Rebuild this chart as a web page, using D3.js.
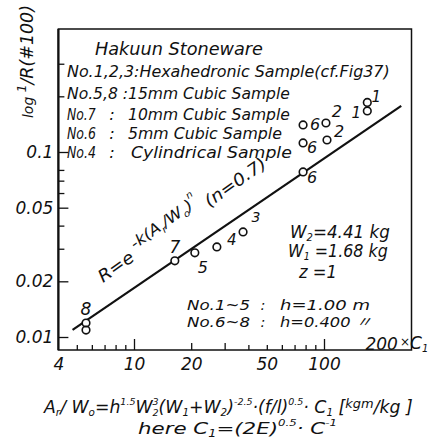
<!DOCTYPE html>
<html>
<head>
<meta charset="utf-8">
<script src="https://cdnjs.cloudflare.com/ajax/libs/d3/7.8.5/d3.min.js"></script>
<style>
  html, body { margin: 0; padding: 0; background: #fff; }
  svg { display: block; }
  text { font-family: "DejaVu Sans", "Liberation Sans", "Noto Sans CJK JP", sans-serif; font-style: italic; fill: #111; }
</style>
</head>
<body>
<svg id="chart" width="435" height="441"></svg>
<script>
// ---- data: Ar/W0 (×C1) against log 1/R(#100), Hakuun stoneware ----
const sampleNo = ["8", "8", "7", "5", "4", "3", "6", "6", "6", "2", "2", "1", "1"];
const arW0     = [5.59, 5.59, 16.4, 20.9, 27.3, 37.5, 77.6, 77.6, 77.6, 102.4, 103.7, 169, 169];
const logInvR  = [0.0119, 0.0109, 0.0258, 0.0285, 0.0307, 0.0370, 0.0780, 0.1119, 0.140, 0.1435, 0.1161, 0.1853, 0.1667];

// fitted relation: log 1/R = k (Ar/W0)^n, n = 0.7
const fitK = 0.00367;
const fitN = 0.7;
const fitRange = [4.75, 255];

// axis ticks
const xLabelTicks = [4, 10, 20, 50, 100, 200];
const xMinorTicks = [5, 6, 7, 8, 9, 40, 50, 60, 70, 80, 90];
const xMidTicks   = [20, 30];
const xMajorTicks = [10, 100];
const yLabelTicks = [0.01, 0.02, 0.05, 0.1];
const yMinorTicks = [0.03, 0.04, 0.06, 0.07, 0.08, 0.2, 0.3];

// annotation texts
const legendTitle = "Hakuun  Stoneware";
const legendRows = [
  ["No.1,2,3:Hexahedronic Sample(cf.Fig37)"],
  ["No.5,8 :15mm Cubic Sample"],
  ["No.7", ":", "10mm Cubic Sample"],
  ["No.6", ":", "5mm Cubic Sample"],
  ["No.4", ":", "Cylindrical Sample"]
];
const heightRows = [
  ["No.1~5", ":", "h=1.00 m"],
  ["No.6~8", ":", "h=0.400 〃"]
];

// ---- drawing ----
const ink = "#111";
const svg = d3.select("#chart");

const x = d3.scaleLog().domain([10, 100]).range([134, 324]);
const y = d3.scaleLog().domain([0.01, 0.1]).range([337, 152]);
const box = { left: x(4), right: 411.5, top: 29, bottom: 350 };

// Writes a run of tspans (text, size factor, baseline shift, dx) and
// squeezes it horizontally into [x0, x1] on baseline yb.
function fitText(parent, parts, o) {
  const t = parent.append("text").attr("font-size", o.size || 17);
  let cur = 0;
  parts.forEach(([s, k, sh, dx]) => {
    t.append("tspan")
      .attr("font-size", (o.size || 17) * (k || 1))
      .attr("dy", (sh || 0) - cur)
      .attr("dx", dx || null)
      .text(s);
    cur = sh || 0;
  });
  const b = t.node().getBBox();
  const sx = (o.x1 - o.x0) / b.width;
  t.attr("transform", `translate(${o.x0 - b.x * sx},${o.y}) scale(${sx},1)`);
  return t;
}

// frame
svg.append("rect")
  .attr("x", box.left).attr("y", box.top)
  .attr("width", box.right - box.left).attr("height", box.bottom - box.top)
  .attr("fill", "none").attr("stroke", ink).attr("stroke-width", 1.5);
svg.append("line")
  .attr("x1", box.left).attr("x2", box.left)
  .attr("y1", box.top).attr("y2", box.bottom)
  .attr("stroke", ink).attr("stroke-width", 2.2);

// x tick marks (pointing inward)
[[xMinorTicks, 5], [xMidTicks, 7], [xMajorTicks, 11]].forEach(([vals, len]) => {
  svg.append("g").attr("transform", `translate(0,${box.bottom})`)
    .call(d3.axisBottom(x).tickValues(vals).tickSize(-len).tickSizeOuter(0).tickFormat(""))
    .call(g => {
      g.select(".domain").remove();
      g.selectAll("line").attr("stroke", ink).attr("stroke-width", 1.3);
    });
});
// x tick labels
const xl = svg.append("g").attr("transform", `translate(0,${box.bottom})`)
  .call(d3.axisBottom(x).tickValues(xLabelTicks).tickSize(0).tickPadding(8).tickFormat(d3.format("d")))
  .call(g => g.select(".domain").remove());
xl.selectAll("text").attr("font-size", 17);
xl.selectAll(".tick").filter(d => d === 200).select("text").attr("y", -12);
// unit after the last label
{
  const t = svg.append("text").attr("x", 400).attr("y", box.bottom - 1).attr("font-size", 17);
  t.append("tspan").attr("font-size", 12).attr("dy", -3).text("×");
  t.append("tspan").attr("dy", 3).text("C");
  t.append("tspan").attr("font-size", 10).attr("dy", 3).text("1");
}

// y tick marks (pointing inward)
[[yMinorTicks, 6], [yLabelTicks, 10]].forEach(([vals, len]) => {
  svg.append("g").attr("transform", `translate(${box.left},0)`)
    .call(d3.axisLeft(y).tickValues(vals).tickSize(-len).tickSizeOuter(0).tickFormat(""))
    .call(g => {
      g.select(".domain").remove();
      g.selectAll("line").attr("stroke", ink).attr("stroke-width", 1.3);
    });
});
// y tick labels
const yl = svg.append("g").attr("transform", `translate(${box.left},0)`)
  .call(d3.axisLeft(y).tickValues(yLabelTicks).tickSize(0).tickPadding(5).tickFormat(d => String(d)))
  .call(g => g.select(".domain").remove());
yl.selectAll("text").attr("font-size", 17);

// y axis title, reading upward
{
  const g = svg.append("g").attr("transform", "translate(33,118) rotate(-90)");
  fitText(g, [["log ", 0.8, 0], ["1", 0.7, -7], ["/R(#100)", 1, 0]], { x0: 0, x1: 113, y: 0, size: 17 });
}

// fitted line
const model = v => fitK * Math.pow(v, fitN);
svg.append("path")
  .datum(fitRange.map(v => [v, model(v)]))
  .attr("d", d3.line().x(d => x(d[0])).y(d => y(d[1])))
  .attr("fill", "none").attr("stroke", ink).attr("stroke-width", 2.2);

// relation written along the line
{
  const g = svg.append("g").attr("transform", "translate(103,283) rotate(-35.3)");
  fitText(g, [
    ["R=e", 1, 0], [" -k(A", 0.9, -9], ["r", 0.55, -5], ["/W", 0.9, -9], ["o", 0.55, -5],
    [")", 0.9, -9], ["n", 0.55, -19], [" (n=0.7)", 1, 0]
  ], { x0: 0, x1: 202, y: 0, size: 17 });
}

// sample points: white discs first, then all outlines on top
const pts = sampleNo.map((s, i) => ({ s, x: x(arW0[i]), y: y(logInvR[i]) }));
svg.append("g").selectAll("circle").data(pts).join("circle")
  .attr("cx", d => d.x).attr("cy", d => d.y).attr("r", 3.8).attr("fill", "#fff");
svg.append("g").selectAll("circle").data(pts).join("circle")
  .attr("cx", d => d.x).attr("cy", d => d.y).attr("r", 3.8)
  .attr("fill", "none").attr("stroke", ink).attr("stroke-width", 1.6);

// sample number tags (dx, dy, size); null where a pair shares one tag
const tagPos = [
  [0, -8, 17], null, [0, -8, 17], [8, 20, 16], [15, -2, 15], [13, -10, 14],
  [9, 11, 16], [9, 10, 16], [12, 5, 16], [11, -6, 16], [12, -3, 16],
  [9, 0, 15], [-11, 7, 15]
];
svg.append("g").selectAll("text").data(pts.map((p, i) => ({ ...p, t: tagPos[i] })).filter(d => d.t))
  .join("text")
  .attr("x", d => d.x + d.t[0]).attr("y", d => d.y + d.t[1])
  .attr("font-size", d => d.t[2]).attr("text-anchor", "middle")
  .text(d => d.s);

// legend block
fitText(svg, [[legendTitle, 1, 0]], { x0: 95, x1: 263, y: 55, size: 17 });
const rowY = [77, 99, 120, 139, 158];
const rowSpans = [
  [[67, 390]],
  [[67, 290]],
  [[67, 96], 112, [128, 290]],
  [[67, 96], 112, [128, 282]],
  [[67, 96], 112, [131, 292]]
];
legendRows.forEach((row, r) => {
  row.forEach((s, j) => {
    const span = rowSpans[r][j];
    if (Array.isArray(span)) {
      fitText(svg, [[s, 1, 0]], { x0: span[0], x1: span[1], y: rowY[r], size: 16.5 });
    } else {
      svg.append("text").attr("x", span).attr("y", rowY[r]).attr("font-size", 16.5)
        .attr("text-anchor", "middle").text(s);
    }
  });
});

// weights and drop heights
fitText(svg, [["W", 1, 0], ["2", 0.6, 3], ["=4.41 kg", 1, 0]], { x0: 290, x1: 390, y: 238, size: 17 });
fitText(svg, [["W", 1, 0], ["1", 0.6, 3], [" =1.68 kg", 1, 0]], { x0: 288, x1: 388, y: 257, size: 17 });
fitText(svg, [["z =1", 1, 0]], { x0: 298, x1: 337, y: 278, size: 17 });
const hY = [310, 327];
const hSpans = [[[187, 250], 263, [280, 370]], [[187, 250], 263, [280, 372]]];
heightRows.forEach((row, r) => {
  row.forEach((s, j) => {
    const span = hSpans[r][j];
    if (Array.isArray(span)) {
      fitText(svg, [[s, 1, 0]], { x0: span[0], x1: span[1], y: hY[r], size: 14.5 });
    } else {
      svg.append("text").attr("x", span).attr("y", hY[r]).attr("font-size", 14.5)
        .attr("text-anchor", "middle").text(s);
    }
  });
});

// x axis definition lines
fitText(svg, [
  ["A", 1, 0], ["r", 0.6, 3], ["/ W", 1, 0], ["o", 0.6, 3], ["=h", 1, 0], ["1.5", 0.55, -8],
  ["W", 1, 0], ["2", 0.55, 3], ["3", 0.55, -8, -6], ["(W", 1, 0], ["1", 0.6, 3], ["+W", 1, 0], ["2", 0.6, 3],
  [")", 1, 0], ["-2.5", 0.55, -8], ["·(f/l)", 1, 0], ["0.5", 0.55, -8], ["· C", 1, 0], ["1", 0.6, 3],
  [" [", 1, 0], ["kgm", 0.75, -5], ["/kg ]", 1, 0]
], { x0: 43, x1: 413, y: 413, size: 17 });
fitText(svg, [
  ["here  C", 1, 0], ["1", 0.6, 3], ["=(2E)", 1, 0], ["0.5", 0.55, -8], ["· C", 1, 0], ["-1", 0.55, -8]
], { x0: 138, x1: 337, y: 434, size: 16 });
</script>
</body>
</html>
